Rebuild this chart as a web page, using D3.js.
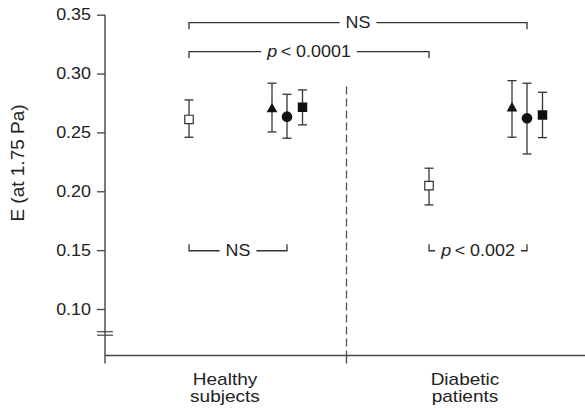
<!DOCTYPE html>
<html>
<head>
<meta charset="utf-8">
<script src="https://cdn.jsdelivr.net/npm/d3@7"></script>
<style>
  body { margin: 0; background: #fff; }
  svg { display: block; font-family: "Liberation Sans", Arial, Helvetica, sans-serif; }
</style>
</head>
<body>
<div id="chart"></div>
<script>
// groups and series
var groups = ["Healthy subjects", "Diabetic patients"];
var groupLines = [["Healthy", "subjects"], ["Diabetic", "patients"]];
var series = ["open square", "triangle", "circle", "filled square"];

// E at 1.75 Pa, mean and error bar ends, per group (series order as above)
var means = [
  [0.261, 0.2697, 0.2634, 0.2714],
  [0.2048, 0.2705, 0.262, 0.2648],
];
var lows = [
  [0.2459, 0.2504, 0.2451, 0.2564],
  [0.1884, 0.2459, 0.2317, 0.2456],
];
var highs = [
  [0.2776, 0.2918, 0.2824, 0.2861],
  [0.2196, 0.294, 0.2918, 0.2841],
];

var yTicks = [0.1, 0.15, 0.2, 0.25, 0.3, 0.35];

// significance brackets: from [group, series] to [group, series] at level y
var brackets = [
  { from: [0, 0], to: [1, 2], y: 0.3432, label: "NS", dir: 1 },
  { from: [0, 0], to: [1, 0], y: 0.3186, label: "p\u2009< 0.0001", dir: 1 },
  { from: [0, 0], to: [0, 2], y: 0.1495, label: "NS", dir: -1 },
  { from: [1, 0], to: [1, 2], y: 0.1495, label: "p\u2009< 0.002", dir: -1 },
];

var width = 585,
  height = 409,
  stretch = 1.12,
  ink = "#222",
  axisColor = "#444";

var svg = d3
  .select("#chart")
  .append("svg")
  .attr("width", width)
  .attr("height", height);

var y = d3.scaleLinear().domain([0.1, 0.35]).range([309, 14.7]);
var axisX = 105,
  baseY = 355.5;

var x = d3.scaleBand().domain(groups).range([axisX, width]);

// offset of each series inside its group band
var offset = d3
  .scaleOrdinal()
  .domain(series)
  .range([-36, 47, 62, 77.5]);

function xPos(g, s) {
  return x(groups[g]) + x.bandwidth() / 2 + offset(series[s]);
}

// y axis
var yAxis = svg
  .append("g")
  .attr("transform", `translate(${axisX},0)`)
  .call(
    d3
      .axisLeft(y)
      .tickValues(yTicks)
      .tickSize(8)
      .tickFormat(d3.format(".2f"))
  );
yAxis.select(".domain").remove();
yAxis.selectAll(".tick line").attr("stroke", axisColor).attr("stroke-width", 1.3);
yAxis
  .selectAll(".tick text")
  .attr("x", null)
  .attr("transform", `translate(-14,0) scale(${stretch},1)`)
  .attr("font-size", 16)
  .attr("font-family", null)
  .attr("fill", ink);

svg
  .append("line")
  .attr("x1", axisX)
  .attr("x2", axisX)
  .attr("y1", y(0.35))
  .attr("y2", baseY + 8)
  .attr("stroke", axisColor)
  .attr("stroke-width", 1.4);

// axis break
[331.7, 335.2].forEach(function (by) {
  svg
    .append("line")
    .attr("x1", axisX - 8)
    .attr("x2", axisX + 8)
    .attr("y1", by)
    .attr("y2", by)
    .attr("stroke", axisColor)
    .attr("stroke-width", 1.2);
});

// x axis
svg
  .append("line")
  .attr("x1", axisX)
  .attr("x2", width)
  .attr("y1", baseY)
  .attr("y2", baseY)
  .attr("stroke", axisColor)
  .attr("stroke-width", 1.4);

var bounds = [x(groups[1])];
svg
  .selectAll(".xtick")
  .data(bounds)
  .join("line")
  .attr("class", "xtick")
  .attr("x1", (d) => d + 1.5)
  .attr("x2", (d) => d + 1.5)
  .attr("y1", baseY)
  .attr("y2", baseY + 8)
  .attr("stroke", axisColor)
  .attr("stroke-width", 1.3);

// dashed divider between groups
svg
  .selectAll(".divider")
  .data(bounds)
  .join("line")
  .attr("class", "divider")
  .attr("x1", (d) => d + 1.5)
  .attr("x2", (d) => d + 1.5)
  .attr("y1", y(0.289))
  .attr("y2", baseY)
  .attr("stroke", "#555")
  .attr("stroke-width", 1.3)
  .attr("stroke-dasharray", "8,4");

// group labels
groups.forEach(function (g, i) {
  var t = svg
    .append("text")
    .attr(
      "transform",
      `translate(${x(g) + x.bandwidth() / 2},385) scale(${stretch},1)`
    )
    .attr("text-anchor", "middle")
    .attr("font-size", 17)
    .attr("fill", ink);
  groupLines[i].forEach(function (line, k) {
    t.append("tspan").attr("x", 0).attr("dy", k ? 17.5 : 0).text(line);
  });
});

// y axis title
svg
  .append("text")
  .attr("transform", `translate(24,163) rotate(-90)`)
  .attr("text-anchor", "middle")
  .attr("font-size", 19)
  .attr("fill", ink)
  .text("E (at 1.75 Pa)");

// error bars and markers
var points = [];
groups.forEach(function (g, gi) {
  series.forEach(function (s, si) {
    points.push({
      g: gi,
      s: si,
      mean: means[gi][si],
      lo: lows[gi][si],
      hi: highs[gi][si],
    });
  });
});

var pts = svg
  .append("g")
  .selectAll("g")
  .data(points)
  .join("g")
  .attr("transform", (d) => `translate(${xPos(d.g, d.s)},0)`);

pts
  .append("line")
  .attr("y1", (d) => y(d.lo))
  .attr("y2", (d) => y(d.hi))
  .attr("stroke", "#333")
  .attr("stroke-width", 1.3);

pts
  .selectAll(".cap")
  .data((d) => [d.lo, d.hi])
  .join("line")
  .attr("x1", -4.5)
  .attr("x2", 4.5)
  .attr("y1", (d) => y(d))
  .attr("y2", (d) => y(d))
  .attr("stroke", "#333")
  .attr("stroke-width", 1.3);

var symbolOf = {
  "open square": d3.symbol(d3.symbolSquare, 72),
  triangle: d3.symbol(d3.symbolTriangle, 50),
  circle: d3.symbol(d3.symbolCircle, 88),
  "filled square": d3.symbol(d3.symbolSquare, 90),
};

pts
  .append("path")
  .attr("transform", (d) => `translate(0,${y(d.mean)})`)
  .attr("d", (d) => symbolOf[series[d.s]]())
  .attr("fill", (d) => (d.s === 0 ? "#fff" : "#111"))
  .attr("stroke", (d) => (d.s === 0 ? "#333" : "none"))
  .attr("stroke-width", 1.2);

// significance brackets
var pad = 6,
  tickLen = 6.5;
brackets.forEach(function (b) {
  var x1 = xPos(b.from[0], b.from[1]),
    x2 = xPos(b.to[0], b.to[1]),
    by = y(b.y),
    cx = (x1 + x2) / 2;

  var g = svg.append("g");
  var t = g
    .append("text")
    .attr("transform", `translate(${cx},${by}) scale(${stretch},1)`)
    .attr("text-anchor", "middle")
    .attr("dy", "0.35em")
    .attr("font-size", 16)
    .attr("fill", ink);
  if (b.label.charAt(0) === "p") {
    t.append("tspan").attr("font-style", "italic").text("p");
    t.append("tspan").text(b.label.slice(1));
  } else {
    t.text(b.label);
  }
  var half = (t.node().getComputedTextLength() * stretch) / 2 + pad;

  var path = d3.path();
  path.moveTo(x1, by + b.dir * tickLen);
  path.lineTo(x1, by);
  path.lineTo(cx - half, by);
  path.moveTo(cx + half, by);
  path.lineTo(x2, by);
  path.lineTo(x2, by + b.dir * tickLen);
  g.append("path")
    .attr("d", path.toString())
    .attr("fill", "none")
    .attr("stroke", "#333")
    .attr("stroke-width", 1.3);
});
</script>
</body>
</html>
